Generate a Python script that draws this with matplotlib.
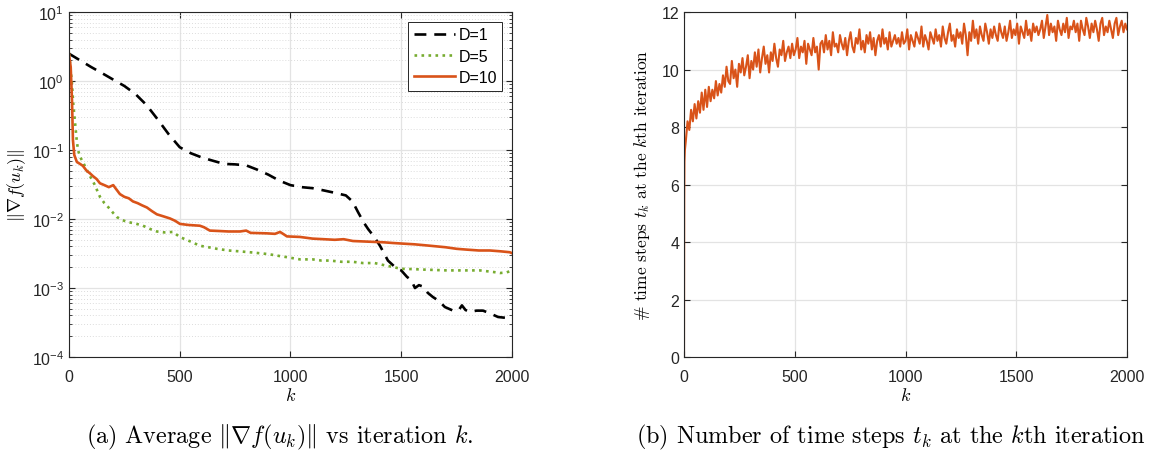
import numpy as np
import matplotlib
matplotlib.use("Agg")
import matplotlib.pyplot as plt
from matplotlib.ticker import LogLocator, NullFormatter

plt.rcParams['font.family'] = ['Liberation Sans', 'DejaVu Sans']
plt.rcParams['mathtext.fontset'] = 'cm'

# ---- left panel: average gradient norm ----
k_d1 = [0, 50, 100, 150, 200, 250, 300, 350, 400, 450, 500, 550, 600, 650, 700, 750, 800,
        850, 900, 950, 1000, 1050, 1100, 1150, 1200, 1250, 1280, 1305, 1330, 1350, 1380,
        1404, 1440, 1480, 1500, 1526, 1545, 1562, 1580, 1598, 1620, 1643, 1670, 1697, 1734,
        1760, 1774, 1790, 1810, 1840, 1869, 1900, 1937, 1970, 2000]
g_d1 = [2.5, 2.0, 1.6, 1.3, 1.05, 0.85, 0.65, 0.45, 0.28, 0.17, 0.11, 0.09, 0.078, 0.07,
        0.063, 0.062, 0.06, 0.052, 0.044, 0.036, 0.031, 0.029, 0.028, 0.026, 0.024, 0.022,
        0.018, 0.0126, 0.009, 0.0072, 0.0054, 0.0041, 0.0025, 0.0019, 0.0018, 0.00145,
        0.0013, 0.001, 0.0011, 0.00105, 0.00085, 0.00074, 0.00065, 0.00053, 0.00047,
        0.00048, 0.00056, 0.00048, 0.00045, 0.00047, 0.00047, 0.00043, 0.00038, 0.00037,
        0.00035]

k_d5 = [0, 5, 13, 20, 27, 35, 41, 50, 63, 80, 95, 115, 140, 160, 185, 200, 216, 240, 262,
        300, 334, 370, 397, 430, 470, 500, 550, 591, 630, 668, 720, 770, 817, 900, 953, 984,
        1043, 1100, 1140, 1178, 1230, 1280, 1327, 1380, 1435, 1470, 1494, 1550, 1600, 1706,
        1800, 1855, 1920, 1946, 1975, 2000]
g_d5 = [2.5, 1.8, 0.97, 0.45, 0.26, 0.14, 0.10, 0.08, 0.067, 0.052, 0.042, 0.032, 0.021,
        0.017, 0.014, 0.0122, 0.0107, 0.0097, 0.0091, 0.0086, 0.008, 0.0071, 0.0066, 0.0064,
        0.0065, 0.0055, 0.0047, 0.0041, 0.0039, 0.0037, 0.0035, 0.0034, 0.0033, 0.0031,
        0.0029, 0.0028, 0.0026, 0.0026, 0.0025, 0.0025, 0.0024, 0.0024, 0.0023, 0.0023,
        0.0021, 0.0020, 0.0019, 0.00188, 0.00185, 0.0018, 0.0018, 0.0018, 0.0017, 0.00165,
        0.00168, 0.0018]

k_d10 = [0, 8, 14, 18, 24, 36, 50, 63, 80, 95, 108, 125, 140, 160, 180, 200, 210, 230, 250,
         270, 289, 310, 330, 352, 375, 397, 420, 456, 480, 501, 540, 591, 610, 636, 680, 720,
         772, 800, 820, 894, 930, 953, 970, 984, 1043, 1100, 1150, 1200, 1240, 1282, 1350,
         1420, 1460, 1508, 1560, 1630, 1700, 1750, 1797, 1850, 1900, 1950, 1990, 2000]
g_d10 = [2.5, 1.6, 0.5, 0.14, 0.085, 0.067, 0.063, 0.059, 0.05, 0.046, 0.042, 0.038, 0.033,
         0.031, 0.029, 0.031, 0.028, 0.023, 0.021, 0.020, 0.018, 0.017, 0.0158, 0.0147,
         0.013, 0.0117, 0.0111, 0.0102, 0.0094, 0.0085, 0.0082, 0.008, 0.0076, 0.0068,
         0.0067, 0.0066, 0.0066, 0.0068, 0.0063, 0.0062, 0.0061, 0.0065, 0.006, 0.0056,
         0.0055, 0.0052, 0.0051, 0.005, 0.0051, 0.0048, 0.0047, 0.0046, 0.0045, 0.0044,
         0.0043, 0.0041, 0.0039, 0.0037, 0.0036, 0.0035, 0.0035, 0.0034, 0.0033, 0.0032]

# ---- right panel: number of time steps per iteration ----
k_steps = np.concatenate([[0, 1, 2, 4], np.arange(8, 2001, 8)])
steps = [0, 5.5, 6.8, 7.2,
         7.5, 8.2, 7.9, 8.6, 8.2, 8.8, 8.3, 8.9, 8.5, 9.2, 8.6, 9.3, 8.7, 9.4, 8.9, 9.3, 9.0, 9.6, 9.1, 9.5,
         9.2, 9.8, 9.4, 10.1, 9.6, 9.5, 10.3, 9.7, 10.0, 9.4, 10.2, 9.9, 10.4, 9.8, 10.1, 10.5, 9.7, 10.3, 10.0, 10.6,
         10.1, 10.7, 9.9, 10.4, 10.8, 10.2, 10.5, 9.9, 10.6, 10.3, 10.9, 10.4, 10.1, 10.7, 10.5, 11.0, 10.3, 10.6, 10.8, 10.4,
         10.9, 10.5, 10.7, 11.1, 10.4, 10.8, 10.6, 11.0, 10.2, 10.9, 10.7, 10.5, 11.1, 10.6, 10.8, 10.0, 10.9, 11.0, 10.6, 11.2,
         10.7, 11.0, 10.5, 11.3, 10.8, 10.9, 10.6, 11.2, 10.9, 10.7, 11.1, 10.5, 11.0, 11.3, 10.8, 10.6, 11.1, 10.9, 11.4, 10.7,
         11.0, 10.6, 11.2, 10.9, 11.3, 10.7, 11.1, 10.5, 11.0, 11.2, 10.8, 11.4, 10.9, 11.1, 10.7, 11.3, 10.8, 11.0, 11.2, 10.9,
         11.1, 10.8, 11.3, 10.9, 11.0, 11.4, 10.7, 11.2, 11.0, 10.8, 11.3, 11.1, 10.9, 11.5, 10.8, 11.2, 11.0, 10.7, 11.3, 11.1,
         10.9, 11.4, 11.0, 11.2, 10.8, 11.5, 11.1, 10.9, 11.3, 11.6, 11.0, 11.2, 10.8, 11.4, 11.1, 11.3, 10.9, 11.6, 11.2, 10.5,
         11.3, 11.0, 11.7, 11.1, 11.4, 10.9, 11.5, 11.2, 11.0, 11.6, 11.3, 10.9, 11.4, 11.1, 11.5, 11.2, 11.0, 11.6, 11.3, 11.1,
         11.5, 11.0, 11.3, 11.7, 11.1, 11.4, 11.2, 11.6, 10.9, 11.5, 11.3, 11.1, 11.7, 11.2, 11.4, 11.0, 11.6, 11.3, 11.5, 11.2,
         11.4, 11.7, 11.1, 11.5, 11.9, 11.2, 11.6, 11.3, 11.5, 11.0, 11.7, 11.4, 11.2, 11.6, 11.3, 11.8, 11.1, 11.5, 11.4, 11.7,
         11.3, 11.6, 11.0, 11.7, 11.4, 11.2, 11.8, 11.5, 11.1, 11.6, 11.3, 11.7, 11.4, 11.0, 11.6, 11.8, 11.2, 11.5, 11.3, 11.7,
         11.4, 11.1, 11.6, 11.8, 11.2, 11.5, 11.7, 11.3, 11.6, 11.4]

x_ticks = [0, 500, 1000, 1500, 2000]

black = '#000000'
green = '#77AC30'
orange = '#D95319'
spine_c = '#262626'
grid_c = '#e3e3e3'
tick_fs = 11.5

fig = plt.figure(figsize=(11.49, 4.52), dpi=100)
ax1 = fig.add_axes([0.060, 0.208, 0.3856, 0.763])
ax2 = fig.add_axes([0.5953, 0.208, 0.3856, 0.763])

# left
ax1.plot(k_d1, g_d1, color=black, lw=1.9, linestyle=(0, (4.5, 3)), label='D=1')
ax1.plot(k_d5, g_d5, color=green, lw=1.9, linestyle=':', label='D=5')
ax1.plot(k_d10, g_d10, color=orange, lw=1.9, label='D=10')
ax1.set_yscale('log')
ax1.set_ylim(1e-4, 1e1)
ax1.set_xlim(0, 2000)
ax1.yaxis.set_major_locator(LogLocator(base=10, numticks=10))
ax1.yaxis.set_minor_locator(LogLocator(base=10, subs=np.arange(2, 10), numticks=20))
ax1.yaxis.set_minor_formatter(NullFormatter())
ax1.grid(True, which='major', color=grid_c, lw=0.9)
ax1.grid(True, which='minor', color='#dcdcdc', lw=0.7, linestyle=(0, (1, 2)))
ax1.set_ylabel(r'$\|\nabla f(u_k)\|$', fontsize=13, math_fontfamily='cm', labelpad=3)
leg = ax1.legend(loc='upper right', fontsize=tick_fs, fancybox=False, framealpha=1,
                 edgecolor=spine_c, borderaxespad=0.6, handlelength=2.6, handletextpad=0.2,
                 labelspacing=0.4, borderpad=0.35)
leg.get_frame().set_linewidth(0.7)

# right
ax2.plot(k_steps, steps, color=orange, lw=1.5)
ax2.set_ylim(0, 12)
ax2.set_xlim(0, 2000)
ax2.set_yticks(range(0, 13, 2))
ax2.grid(True, color=grid_c, lw=0.9)
ax2.set_ylabel(r'$\#$ time steps $t_k$ at the $k$th iteration', fontsize=12.5,
               family='cmr10', math_fontfamily='cm', labelpad=7)

for ax in (ax1, ax2):
    ax.set_xticks(x_ticks)
    ax.set_axisbelow(True)
    ax.set_xlabel(r'$k$', fontsize=13, math_fontfamily='cm', labelpad=2)
    ax.tick_params(which='both', direction='in', top=True, right=True, colors=spine_c,
                   labelsize=tick_fs, labelcolor='#262626')
    ax.tick_params(which='major', length=4)
    ax.tick_params(which='minor', length=2)
    ax.tick_params(axis='x', which='major', pad=9)
    for s in ax.spines.values():
        s.set_color(spine_c)
        s.set_linewidth(0.8)

fig.text(0.2437, 0.02, r'(a) Average $\|\nabla f(u_k)\|$ vs iteration $k$.',
         ha='center', fontsize=17.4, family='cmr10', math_fontfamily='cm')
fig.text(0.775, 0.02, r'(b) Number of time steps $t_k$ at the $k$th iteration',
         ha='center', fontsize=17.4, family='cmr10', math_fontfamily='cm')

fig.savefig('out.png', dpi=100)
